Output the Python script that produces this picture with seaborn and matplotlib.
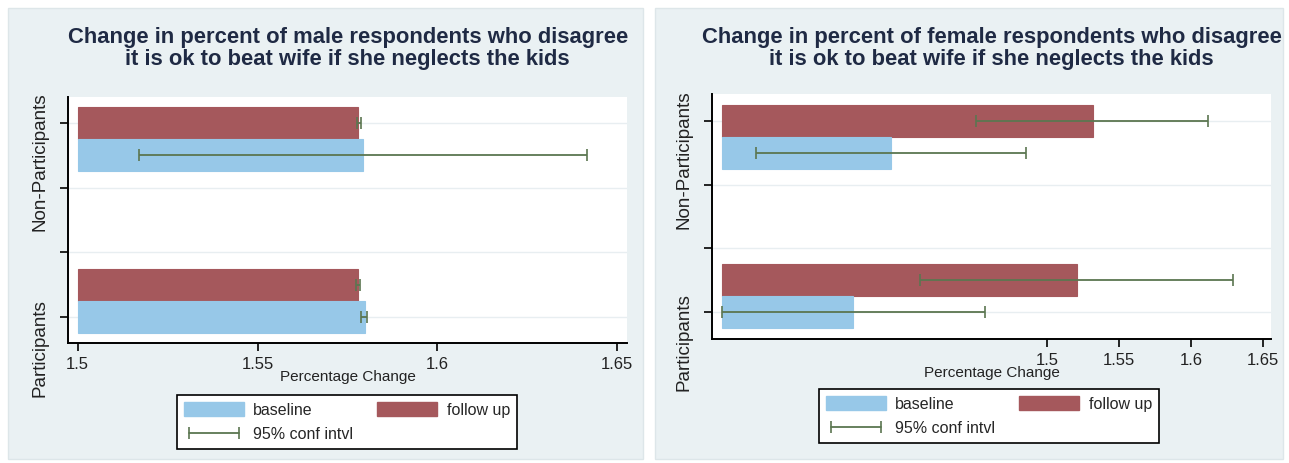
import matplotlib
matplotlib.use("Agg")
import pandas as pd
import matplotlib.pyplot as plt
import matplotlib.transforms as mtransforms
from matplotlib.patches import Rectangle, Patch
from matplotlib.lines import Line2D
import seaborn as sns

# Grupos y olas
groups = ["Non-Participants", "Participants"]
waves = ["follow up", "baseline"]

# Hombres: valor, IC inferior, IC superior (por grupo)
male_follow = [1.5780, 1.5780]
male_follow_lo = [1.5776, 1.5775]
male_follow_hi = [1.5788, 1.5785]
male_base = [1.5794, 1.5799]
male_base_lo = [1.5171, 1.5787]
male_base_hi = [1.6415, 1.5803]

# Mujeres
female_follow = [1.532, 1.521]
female_follow_lo = [1.451, 1.412]
female_follow_hi = [1.612, 1.629]
female_base = [1.392, 1.365]
female_base_lo = [1.298, 1.2743]
female_base_hi = [1.4854, 1.457]

xticks = [1.5, 1.55, 1.6, 1.65]
xtick_labels = ["1.5", "1.55", "1.6", "1.65"]

titles = [
    "Change in percent of male respondents who disagree\nit is ok to beat wife if she neglects the kids",
    "Change in percent of female respondents who disagree\nit is ok to beat wife if she neglects the kids",
]

BLUE = "#97c8e8"
RED = "#a5585c"
CI = "#5b7650"
PANEL = "#eaf1f3"
TITLE = "#1f2a44"


def make_df(follow, follow_lo, follow_hi, base, base_lo, base_hi):
    return pd.DataFrame({
        "group": groups * 2,
        "wave": ["follow up"] * 2 + ["baseline"] * 2,
        "value": follow + base,
        "lo": follow_lo + base_lo,
        "hi": follow_hi + base_hi,
    })


male = make_df(male_follow, male_follow_lo, male_follow_hi,
               male_base, male_base_lo, male_base_hi)
female = make_df(female_follow, female_follow_lo, female_follow_hi,
                 female_base, female_base_lo, female_base_hi)

sns.set_theme(style="white")
plt.rcParams["font.family"] = ["Liberation Sans", "DejaVu Sans"]

W, H = 1289, 463
fig = plt.figure(figsize=(W / 100, H / 100), dpi=100, facecolor="white")


def px(x0, y0, x1, y1):
    return [x0 / W, 1 - y1 / H, (x1 - x0) / W, (y1 - y0) / H]


panels = [(8, 8, 643, 459), (655, 8, 1283, 459)]
axes_px = [(68.3, 97, 627, 343), (712, 94, 1271, 339)]
bases = [1.5, 1.2743]
xlims = [(1.4974, 1.6527), (1.2674, 1.6556)]
ylims = [(1.26, -0.26), (1.27, -0.27)]
legend_pos = [(347, 422), (989, 416)]

for i, df in enumerate([male, female]):
    r = panels[i]
    fig.patches.append(Rectangle((r[0] / W, 1 - r[3] / H), (r[2] - r[0]) / W,
                                 (r[3] - r[1]) / H, transform=fig.transFigure,
                                 facecolor=PANEL, edgecolor="#dde6e9", lw=1, zorder=-5))
    ax = fig.add_axes(px(*axes_px[i]))
    ax.set_facecolor("white")
    base = bases[i]
    df = df.copy()
    df["length"] = df["value"] - base

    sns.barplot(data=df, y="group", x="length", hue="wave", order=groups,
                hue_order=waves, palette={"follow up": RED, "baseline": BLUE},
                width=0.4, orient="h", left=base, errorbar=None, saturation=1,
                legend=False, linewidth=0.8, ax=ax)
    for bars, wave in zip(ax.containers, waves):
        for bar in bars:
            bar.set_edgecolor(bar.get_facecolor())

    # Intervalos de confianza
    for bars, wave in zip(ax.containers, waves):
        sub = df[df["wave"] == wave].set_index("group").loc[groups]
        yc = [b.get_y() + b.get_height() / 2 for b in bars]
        ax.errorbar(sub["value"], yc,
                    xerr=[sub["value"] - sub["lo"], sub["hi"] - sub["value"]],
                    fmt="none", ecolor=CI, elinewidth=1.3, capsize=4, capthick=1.2,
                    zorder=5)

    ax.set_xlim(*xlims[i])
    ax.set_ylim(*ylims[i])
    ax.set_xticks(xticks)
    ax.set_xticklabels(xtick_labels)
    ax.set_yticks([-0.1, 0.3, 0.7, 1.1])
    ax.set_yticklabels([])
    ax.set_ylabel("")
    ax.grid(axis="y", color="#e8eef1", lw=1)
    ax.set_axisbelow(True)
    for s in ["top", "right"]:
        ax.spines[s].set_visible(False)
    for s in ["left", "bottom"]:
        ax.spines[s].set_color("black")
        ax.spines[s].set_linewidth(1.4)
    ax.tick_params(axis="both", direction="out", length=6, width=1.2,
                   color="black", labelsize=12, labelcolor="#222222",
                   left=True, bottom=True, pad=4)
    ax.set_xlabel("Percentage Change", fontsize=11, color="#222222", va="center")
    hpx = axes_px[i][3] - axes_px[i][1]
    ax.xaxis.set_label_coords(0.5, -34 / hpx)

    trans = mtransforms.blended_transform_factory(ax.transAxes, ax.transData)
    wpx = axes_px[i][2] - axes_px[i][0]
    ax.text(-28.5 / wpx, 0.14, "Non-Participants", rotation=90, ha="center",
            va="center", fontsize=13.6, color="#222222", transform=trans, clip_on=False)
    ax.text(-28.5 / wpx, 1.29, "Participants", rotation=90, ha="center",
            va="center", fontsize=13.6, color="#222222", transform=trans, clip_on=False)

    cx = (axes_px[i][0] + axes_px[i][2]) / 2
    fig.text(cx / W, 1 - 48.5 / H, titles[i], ha="center", va="center",
             fontsize=15.8, fontweight="bold", color=TITLE, linespacing=1.05)

    handles = [Patch(facecolor=BLUE, edgecolor=BLUE),
               Line2D([], [], color=CI, lw=1.3, marker="|", markersize=8,
                      markeredgewidth=1.2),
               Patch(facecolor=RED, edgecolor=RED)]
    labels = ["baseline", "95% conf intvl", "follow up"]
    lx, ly = legend_pos[i]
    leg = fig.legend(handles, labels, loc="center", bbox_to_anchor=(lx / W, 1 - ly / H),
                     ncol=2, numpoints=2, fontsize=11.5, frameon=True, fancybox=False,
                     edgecolor="black", framealpha=1, handlelength=3.75,
                     handleheight=1.0, handletextpad=0.6, columnspacing=1.5,
                     labelspacing=0.55, borderpad=0.45)
    leg.get_frame().set_linewidth(1.2)

fig.savefig("out.png", dpi=100, facecolor="white")
